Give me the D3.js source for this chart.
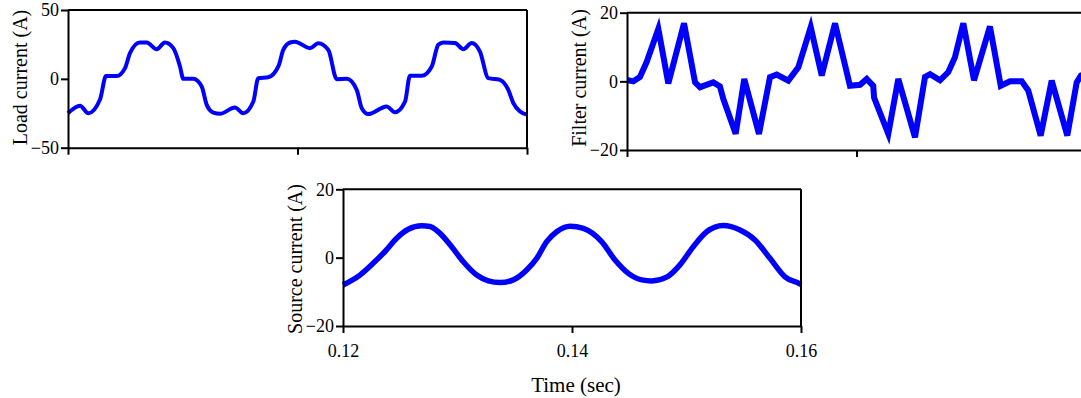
<!DOCTYPE html>
<html>
<head>
<meta charset="utf-8">
<script src="https://cdn.jsdelivr.net/npm/d3@7"></script>
<style>
  html, body { margin: 0; padding: 0; background: #fff; }
  svg { display: block; }
  text { font-family: "Liberation Serif", "Times New Roman", serif; fill: #000; }
</style>
</head>
<body>
<svg id="chart" width="1081" height="398"></svg>
<script>
// ---------------- DATA ----------------
const timeTicks = [0.12, 0.14, 0.16];
const timeTickLabels = ["0.12", "0.14", "0.16"];

const loadTicks = [-50, 0, 50];
const filterTicks = [-20, 0, 20];
const sourceTicks = [-20, 0, 20];

const loadTime = [0.12000,0.12105,0.12177,0.12279,0.12331,0.12424,0.12497,0.12540,0.12627,0.12686,
  0.12773,0.12845,0.12918,0.12976,0.13005,0.13092,0.13165,0.13209,0.13266,0.13325,
  0.13455,0.13528,0.13615,0.13658,0.13746,0.13833,0.13876,0.13935,0.13978,0.14109,
  0.14181,0.14269,0.14342,0.14429,0.14516,0.14560,0.14617,0.14777,0.14850,0.14937,
  0.14980,0.15082,0.15170,0.15227,0.15271,0.15373,0.15445,0.15518,0.15590,0.15663,
  0.15765,0.15837,0.15881,0.15939,0.16000];
const loadCurrent = [-25,-19.6,-25,-15,2,2,7.8,18.7,26.4,26.4,
  21.5,26.4,22.3,9,0,0,-5.6,-18.9,-24.5,-25.4,
  -20.8,-25,-16.5,0.5,1.2,9,21,26.4,27,22.3,
  25.9,21,-0.2,0,-8,-21.3,-25.6,-20,-24.2,-16.5,
  2.2,2.2,9,24.7,26.4,26,21.5,26,19.8,0.5,
  -0.7,-8,-17.6,-23.7,-26];

const filterTime = [0.12000,0.12055,0.12113,0.12172,0.12273,0.12360,0.12497,0.12593,0.12636,0.12752,
  0.12810,0.12839,0.12947,0.13022,0.13150,0.13246,0.13305,0.13406,0.13493,0.13601,
  0.13697,0.13813,0.13943,0.14031,0.14089,0.14146,0.14153,0.14277,0.14364,0.14510,
  0.14597,0.14641,0.14728,0.14800,0.14858,0.14931,0.15024,0.15163,0.15257,0.15338,
  0.15440,0.15497,0.15605,0.15701,0.15837,0.15919,0.15956,0.16000];
const filterCurrent = [0.4,0,1.3,5.7,15.3,-0.6,16.9,-0.3,-1.7,-0.3,
  -1.5,-5.1,-15.3,0.7,-15.3,1.2,2,0.2,4.1,15.8,
  1.7,16.9,-1.3,-1,0.7,-1.3,-4.7,-15.3,0.7,-16.3,
  1.3,2.1,0.3,2.7,7,16.9,0.3,16,-1.3,0,
  0,-2.7,-15.8,0.2,-15.8,-0.3,1.7,2.2];

const sourceTime = [0.12000,0.12148,0.12265,0.12367,0.12469,0.12570,0.12687,0.12760,0.12847,0.12949,
  0.13051,0.13168,0.13269,0.13371,0.13487,0.13604,0.13692,0.13779,0.13866,0.13983,
  0.14099,0.14259,0.14376,0.14492,0.14609,0.14696,0.14827,0.14943,0.15059,0.15176,
  0.15321,0.15467,0.15598,0.15729,0.15860,0.15991,0.16000];
const sourceCurrent = [-8,-5.1,-1.6,1.8,5.7,8.3,9.3,9.1,7.1,3.2,
  -1.2,-5.1,-6.8,-7.3,-6.5,-3.6,-0.2,4.7,7.6,9.2,
  8.6,4.7,-0.7,-4.6,-6.5,-6.8,-5.7,-2.1,3.2,7.6,
  9.4,8.1,5.2,-0.2,-5.6,-7.7,-7.9];

// ---------------- DRAW ----------------
const svg = d3.select("#chart");
const BLUE = "#0000ff";

function panel(opts) {
  const x = d3.scaleLinear().domain([0.12, 0.16]).range([opts.left, opts.right]);
  const y = d3.scaleLinear().domain(opts.yDomain).range([opts.bottom, opts.top]);
  const g = svg.append("g");

  const pts = opts.t.map((t, i) => [t, opts.v[i]]);
  g.append("path")
    .datum(pts)
    .attr("fill", "none")
    .attr("stroke", BLUE)
    .attr("stroke-width", opts.lw)
    .attr("stroke-linejoin", opts.join)
    .attr("d", d3.line().x(d => x(d[0])).y(d => y(d[1])).curve(opts.curve));

  g.append("line").attr("x1", opts.left).attr("x2", opts.right)
    .attr("y1", opts.top).attr("y2", opts.top)
    .attr("stroke", "#000").attr("stroke-width", 2);
  g.append("line").attr("x1", opts.right).attr("x2", opts.right)
    .attr("y1", opts.top).attr("y2", opts.bottom)
    .attr("stroke", "#000").attr("stroke-width", 2);

  const ya = g.append("g").attr("transform", `translate(${opts.left},0)`)
    .call(d3.axisLeft(y).tickValues(opts.yTicks).tickSize(7).tickPadding(2).tickSizeOuter(0)
      .tickFormat(d => d3.format("d")(d)));
  ya.selectAll("text").style("font-size", "18px").style("font-family", "'Liberation Serif', serif");

  const xa = g.append("g").attr("transform", `translate(0,${opts.bottom})`)
    .call(d3.axisBottom(x).tickValues(timeTicks).tickSize(7).tickPadding(11).tickSizeOuter(0)
      .tickFormat((d, i) => opts.xLabels ? timeTickLabels[i] : ""));
  xa.selectAll("text").style("font-size", "18px").style("font-family", "'Liberation Serif', serif");

  [ya, xa].forEach(a => {
    a.select(".domain").attr("stroke-width", 2);
    a.selectAll(".tick line").attr("stroke-width", 2);
  });

  g.append("text")
    .attr("transform", `translate(${opts.titleX},${opts.titleY}) rotate(-90)`)
    .attr("text-anchor", "middle")
    .style("font-size", "20px")
    .text(opts.title);
  return {x, y};
}

panel({left: 68, right: 527, top: 10, bottom: 147.7, yDomain: [-50, 50], yTicks: loadTicks,
  t: loadTime, v: loadCurrent, lw: 4, join: "round", curve: d3.curveMonotoneX,
  title: "Load current (A)", titleX: 27, titleY: 77.5, xLabels: false});

panel({left: 627, right: 1086, top: 12.7, bottom: 150, yDomain: [-20, 20], yTicks: filterTicks,
  t: filterTime, v: filterCurrent, lw: 6, join: "miter", curve: d3.curveLinear,
  title: "Filter current (A)", titleX: 586, titleY: 78, xLabels: false});

panel({left: 343, right: 801, top: 189.3, bottom: 326, yDomain: [-20, 20], yTicks: sourceTicks,
  t: sourceTime, v: sourceCurrent, lw: 5.5, join: "round", curve: d3.curveMonotoneX,
  title: "Source current (A)", titleX: 302, titleY: 259, xLabels: true});

svg.append("text")
  .attr("x", 576)
  .attr("y", 391.5)
  .attr("text-anchor", "middle")
  .style("font-size", "21px")
  .text("Time (sec)");
</script>
</body>
</html>
